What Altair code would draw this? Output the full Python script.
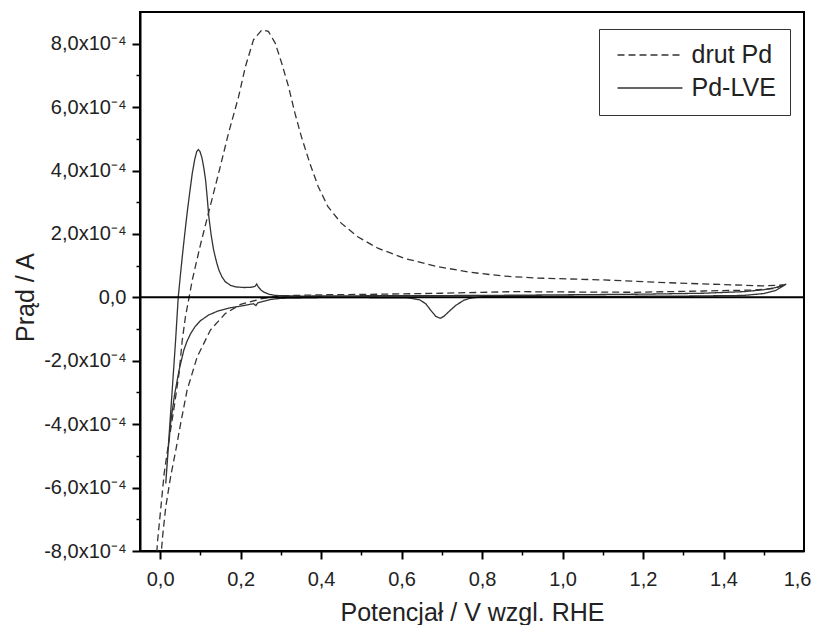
import altair as alt
import pandas as pd

# ---- data (potential in V vs RHE, current in units of 1e-4 A) ----
drut_x = [1.549, 1.528, 1.47, 1.35, 1.18, 1.0, 0.88, 0.70, 0.55, 0.40, 0.30, 0.25, 0.20,
          0.162, 0.125, 0.092, 0.067, 0.051, 0.039, 0.026, 0.014, 0.006, 0.0,
          -0.01, -0.007, 0.002, 0.010, 0.022, 0.035, 0.047, 0.055, 0.063, 0.072, 0.080,
          0.090, 0.100, 0.109, 0.129, 0.150, 0.170, 0.195, 0.212, 0.232, 0.253, 0.269,
          0.286, 0.302, 0.319, 0.335, 0.351, 0.372, 0.393, 0.417, 0.450, 0.491, 0.541,
          0.607, 0.689, 0.771, 0.854, 0.936, 1.10, 1.265, 1.43, 1.496, 1.549]
drut_y = [0.39, 0.28, 0.23, 0.20, 0.16, 0.17, 0.18, 0.13, 0.10, 0.08, 0.05, -0.05, -0.22,
          -0.51, -1.03, -1.88, -2.93, -3.98, -4.82, -5.66, -6.61, -7.56, -8.5,
          -8.5, -7.77, -6.61, -5.56, -4.51, -3.45, -2.40, -1.35, -0.61, 0.0, 0.55,
          1.10, 1.65, 2.10, 3.10, 4.15, 5.18, 6.33, 7.28, 8.12, 8.44, 8.39,
          8.02, 7.39, 6.65, 5.81, 5.07, 4.23, 3.49, 2.86, 2.34, 1.91, 1.55,
          1.23, 0.97, 0.79, 0.67, 0.61, 0.55, 0.46, 0.39, 0.36, 0.39]

lve_x = [1.556, 1.53, 1.50, 1.45, 1.30, 1.10, 0.90, 0.80, 0.77, 0.755, 0.735, 0.72, 0.705,
         0.696, 0.685, 0.672, 0.660, 0.645, 0.62, 0.50, 0.40, 0.30, 0.273, 0.255, 0.243,
         0.238, 0.232, 0.207, 0.17, 0.142, 0.120, 0.100, 0.087, 0.076, 0.067, 0.059,
         0.047, 0.035, 0.026, 0.020, 0.014,
         0.022, 0.030, 0.038, 0.045, 0.050, 0.055, 0.061, 0.067, 0.074, 0.080, 0.086,
         0.091, 0.095, 0.099, 0.104, 0.109, 0.113, 0.117, 0.121, 0.127, 0.133, 0.140,
         0.146, 0.154, 0.162, 0.175, 0.187, 0.21, 0.228, 0.236, 0.240, 0.244, 0.250,
         0.257, 0.27, 0.286, 0.35, 0.5, 0.8, 1.0, 1.2, 1.35, 1.45, 1.50, 1.53, 1.556]
lve_y = [0.42, 0.22, 0.12, 0.06, 0.04, 0.03, 0.03, 0.02, -0.03, -0.09, -0.25, -0.42, -0.60,
         -0.66, -0.60, -0.40, -0.20, -0.08, -0.02, -0.01, -0.01, -0.03, -0.07, -0.13, -0.17,
         -0.26, -0.20, -0.26, -0.34, -0.44, -0.56, -0.74, -0.92, -1.14, -1.38, -1.66,
         -2.30, -3.14, -3.98, -4.82, -5.87,
         -4.40, -2.93, -1.45, 0.0, 0.65, 1.28, 1.98, 2.65, 3.35, 3.92, 4.35,
         4.60, 4.66, 4.60, 4.40, 4.05, 3.70, 3.15, 2.55, 1.95, 1.49, 1.12,
         0.86, 0.64, 0.49, 0.38, 0.33, 0.31, 0.32, 0.35, 0.42, 0.33, 0.24,
         0.17, 0.10, 0.06, 0.04, 0.05, 0.06, 0.08, 0.10, 0.13, 0.18, 0.24, 0.31, 0.42]

series_names = ["drut Pd", "Pd-LVE"]
x_major = [round(i * 0.2, 1) for i in range(9)]
x_minor = [round(0.1 + i * 0.2, 1) for i in range(8)]
y_major = [round(i * 2e-4, 5) for i in range(-4, 5)]
y_minor = [round((2 * i + 1) * 1e-4, 5) for i in range(-4, 4)]

rows = []
for name, xs, ys in [("drut Pd", drut_x, drut_y), ("Pd-LVE", lve_x, lve_y)]:
    for i, (a, b) in enumerate(zip(xs, ys)):
        rows.append({"E": a, "I": b * 1e-4, "series": name, "idx": i})
df = pd.DataFrame(rows)

FONT = "Liberation Sans"

x_scale = alt.Scale(domain=[-0.05, 1.6], nice=False, zero=False)
y_scale = alt.Scale(domain=[-8e-4, 9e-4], nice=False, zero=False)

# label / domain axes
x_axis = alt.Axis(
    values=x_major,
    labelExpr="replace(format(datum.value, '.1f'), '.', ',')",
    ticks=False,
    domainColor="black", domainWidth=2,
    labelFont=FONT, labelFontSize=20, labelColor="#222", labelPadding=18,
    labelFlush=1, labelFlushOffset=7,
    grid=False,
    title="Potencjał / V wzgl. RHE",
    titleFont=FONT, titleFontSize=25, titleFontWeight="normal", titleColor="#222",
    titleY=69, titleBaseline="alphabetic",
)
y_axis = alt.Axis(
    values=y_major,
    labelExpr="abs(datum.value) < 1e-9 ? '0,0' : (datum.value < 0 ? '-' : '') + replace(format(abs(datum.value)*1e4, '.1f'), '.', ',') + 'x10⁻⁴'",
    ticks=False,
    domainColor="black", domainWidth=2,
    labelFont=FONT, labelFontSize=20, labelColor="#222", labelPadding=14,
    grid=False,
    title="Prąd / A",
    titleFont=FONT, titleFontSize=25, titleFontWeight="normal", titleColor="#222",
    titleX=-107, titleY=285, titleBaseline="alphabetic", titleAngle=270,
)


def tick_axis(orient, vals, size, width):
    return alt.Axis(orient=orient, values=vals, labels=False, domain=False,
                    ticks=True, tickSize=size, tickColor="black", tickWidth=width,
                    grid=False, title=None)


# major tick positions nudged by a negligible amount so they form their own tick set
x_major_ticks = [v + 1e-9 for v in x_major]
y_major_ticks = [v + 1e-13 for v in y_major]

lines = alt.Chart(df).mark_line(clip=True, strokeWidth=1.3, color="#333").encode(
    x=alt.X("E:Q", scale=x_scale, axis=x_axis),
    y=alt.Y("I:Q", scale=y_scale, axis=y_axis),
    strokeDash=alt.StrokeDash(
        "series:N",
        scale=alt.Scale(domain=series_names, range=[[7, 4], [1, 0]]),
        legend=alt.Legend(
            title=None, orient="none", legendX=459, legendY=17,
            strokeColor="#333", fillColor="white", padding=13.5,
            symbolType="stroke", symbolSize=4225, symbolStrokeWidth=1.3,
            symbolStrokeColor="#333", symbolOffset=4, clipHeight=25,
            labelFont=FONT, labelFontSize=25, labelColor="#222", labelOffset=8,
            rowPadding=7,
        ),
    ),
    order="idx:Q",
)

major_ticks = alt.Chart(df).mark_point(opacity=0).encode(
    x=alt.X("E:Q", axis=tick_axis("bottom", x_major_ticks, 8, 2)),
    y=alt.Y("I:Q", axis=tick_axis("left", y_major_ticks, 8, 2)),
)

minor_ticks = alt.Chart(df).mark_point(opacity=0).encode(
    x=alt.X("E:Q", axis=tick_axis("bottom", x_minor, 4, 1.5)),
    y=alt.Y("I:Q", axis=tick_axis("left", y_minor, 4, 1.5)),
)

zero = alt.Chart(pd.DataFrame({"I": [0.0]})).mark_rule(color="black", strokeWidth=2).encode(
    y=alt.Y("I:Q", axis=None)
)

chart = alt.layer(lines, major_ticks, minor_ticks, zero).resolve_axis(
    x="independent", y="independent"
).properties(
    width=664, height=539,
    padding={"left": 132, "top": 4, "right": 7, "bottom": 74},
    autosize="none",
).configure_view(stroke="black", strokeWidth=2)

chart.save("out.html", embed_options={"renderer": "svg", "actions": False})
